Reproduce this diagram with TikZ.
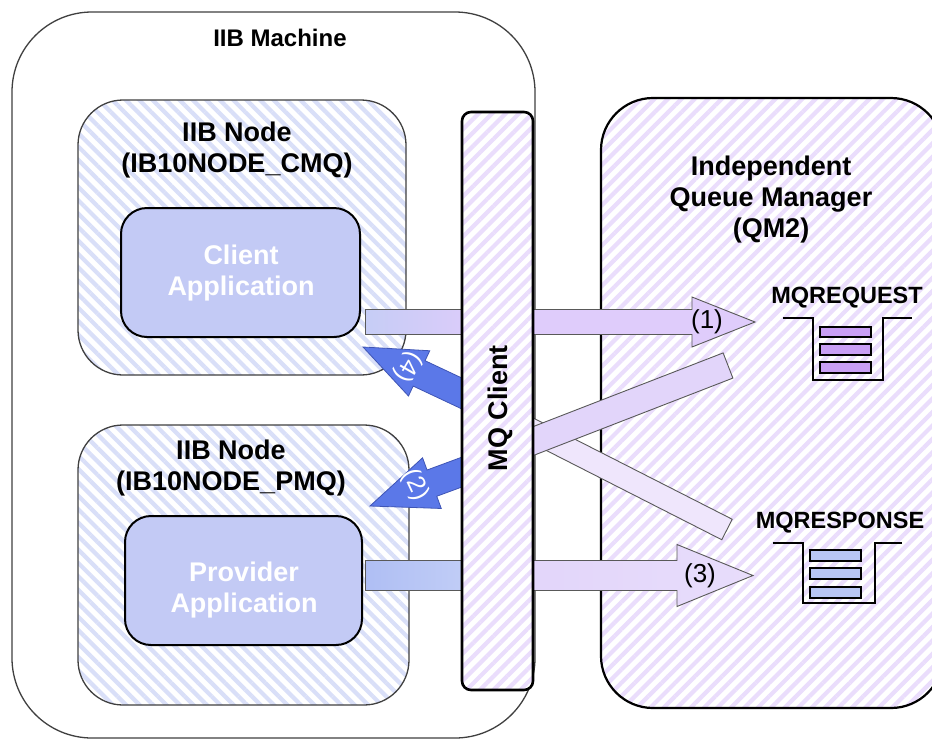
\documentclass[tikz,border=0pt]{standalone}
\usepackage{fontspec}
\setmainfont{Liberation Sans}
\usetikzlibrary{calc,patterns.meta}
\definecolor{stripeB}{HTML}{D9DFF8}
\definecolor{stripeP}{HTML}{EADDFC}
\definecolor{appfill}{HTML}{C3CAF5}
\definecolor{arrblue}{HTML}{5B78E8}
\definecolor{arrblueline}{HTML}{3F55B5}
\definecolor{qpurple}{HTML}{C99FF5}
\definecolor{qblue}{HTML}{B8C6F5}
\definecolor{barA}{HTML}{E2D5FA}
\definecolor{barB}{HTML}{EFE6FC}
\definecolor{arrOneR}{HTML}{DFCCFB}
\definecolor{arrThreeR}{HTML}{E8DDFB}
\newcommand{\blockarrow}[6]{%
  \coordinate (ba-h) at ($(#3)!#5!(#2)$);
  \path[#1] ($(#2)!#4!90:(#3)$) -- ($(ba-h)!#4!90:(#3)$) -- ($(ba-h)!#6!90:(#3)$) -- (#3)
    -- ($(ba-h)!#6!-90:(#3)$) -- ($(ba-h)!#4!-90:(#3)$) -- ($(#2)!#4!-90:(#3)$) -- cycle;
}
\newcommand{\barshape}[4]{%
  \path[#1] ($(#2)!#4!90:(#3)$) -- ($(#3)!#4!-90:(#2)$) -- ($(#3)!#4!90:(#2)$) -- ($(#2)!#4!-90:(#3)$) -- cycle;
}
\tikzset{
  bluehatch/.style={preaction={fill=white}, pattern={Lines[angle=-45,distance=9.5pt,line width=4.2pt]}, pattern color=stripeB},
  purphatch/.style={preaction={fill=white}, pattern={Lines[angle=45,distance=9.5pt,line width=4.2pt]}, pattern color=stripeP},
  machinebox/.style={draw=black!75, line width=1.3pt, rounded corners=80pt, fill=white},
  nodebox/.style={draw=black!75, line width=1.3pt, rounded corners=45pt, bluehatch},
  appbox/.style={draw=black, line width=2pt, rounded corners=26pt, fill=appfill},
  qmbox/.style={draw=black, line width=2.2pt, rounded corners=52pt, purphatch},
  mqbox/.style={draw=black, line width=2.6pt, rounded corners=9pt, purphatch},
  boxnode/.style={inner sep=0pt, outer sep=0pt, anchor=center},
  bigtxt/.style={font=\fontsize{27}{31}\selectfont\bfseries, align=center, inner sep=0pt},
  midtxt/.style={font=\fontsize{24}{28}\selectfont\bfseries, align=center, inner sep=0pt},
  qtxt/.style={font=\fontsize{23.5}{26}\selectfont\bfseries, inner sep=0pt},
  apptxt/.style={font=\fontsize{27}{31}\selectfont\bfseries, align=center, inner sep=0pt, text=white},
  numtxt/.style={font=\fontsize{26}{30}\selectfont, inner sep=0pt},
  wnumtxt/.style={font=\fontsize{25}{28}\selectfont, inner sep=0pt, text=white},
  queueline/.style={draw=black, line width=2pt},
  qitem/.style={draw=black, line width=2pt},
  arrline/.style={draw=black!65, line width=0.9pt},
}
\begin{document}
\begin{tikzpicture}[x=1pt,y=-1pt]
\useasboundingbox (0,0) rectangle (932,740);
\clip (0,0) rectangle (932,740);
\fill[white] (0,0) rectangle (932,740);

% IIB machine
\node[machinebox, boxnode, minimum width=523pt, minimum height=726pt] (machine) at (273.5,375) {};
\node[midtxt] (machinetxt) at (280,38) {IIB Machine};

% IIB nodes
\node[nodebox, boxnode, minimum width=328pt, minimum height=275pt] (cmq) at (242,237.5) {};
\node[bigtxt] (cmqtxt) at (237,150) {IIB Node\\(IB10NODE\_CMQ)};
\node[nodebox, boxnode, minimum width=331pt, minimum height=280pt] (pmq) at (243.5,565) {};
\node[bigtxt] (pmqtxt) at (231,468) {IIB Node\\(IB10NODE\_PMQ)};

% applications
\node[appbox, boxnode, minimum width=239pt, minimum height=129pt] (client) at (240.5,272.5) {};
\node[apptxt] (clienttxt) at (241,273) {Client\\Application};
\node[appbox, boxnode, minimum width=237pt, minimum height=129pt] (provider) at (243.5,580.5) {};
\node[apptxt] (providertxt) at (244,590) {Provider\\Application};

% queue manager
\node[qmbox, boxnode, minimum width=342pt, minimum height=610pt] (qm) at (772,403) {};
\node[bigtxt] (qmtxt) at (771,200) {Independent\\Queue Manager\\(QM2)};

% queues
\node[qtxt] (reqtxt) at (847,298) {MQREQUEST};
\draw[queueline] (783,318) -- (813,318) -- (813,380) -- (883,380) -- (883,318) -- (912,318);
\foreach \ya/\yb in {327/337,344/355,362/373}
  \draw[qitem, fill=qpurple] (820,\ya) rectangle (871,\yb);
\node[qtxt] (resptxt) at (840,523) {MQRESPONSE};
\draw[queueline] (773,543) -- (803,543) -- (803,603) -- (875,603) -- (875,543) -- (902,543);
\foreach \ya/\yb in {550/561,568/579,587/598}
  \draw[qitem, fill=qblue] (810,\ya) rectangle (861,\yb);

% arrow coordinates
\coordinate (a1L) at (365,309.5);
\coordinate (a1M) at (475,334.5);
\coordinate (a1T) at (520,322);
\coordinate (a1P) at (755,322);
\coordinate (a3L) at (365,560.5);
\coordinate (a3M) at (475,590.5);
\coordinate (a3T) at (520,575.5);
\coordinate (a3P) at (753,575.5);
\coordinate (a4T) at (480,402);
\coordinate (a4P) at (363,347);
\coordinate (a2T) at (481,465);
\coordinate (a2P) at (370,506);
\coordinate (bAT) at (505,452);
\coordinate (bAP) at (728,365.5);
\coordinate (bBT) at (505,416.5);
\coordinate (bBP) at (727,529.5);

% arrow (1)
\path[arrline, left color=appfill!95!white, right color=arrOneR!90!appfill] (a1L) rectangle (a1M);
\blockarrow{arrline, fill=arrOneR}{a1T}{a1P}{12.5pt}{63pt}{25pt}
\node[numtxt] (n1) at (707,322) {(1)};
% arrow (3)
\path[arrline, left color=qblue!90!arrblue, right color=qblue!85!white] (a3L) rectangle (a3M);
\blockarrow{arrline, left color=barA, right color=arrThreeR}{a3T}{a3P}{15pt}{76pt}{31pt}
\node[numtxt] (n3) at (700,576) {(3)};
% crossing bars
\barshape{arrline, fill=barB}{bBT}{bBP}{11.5pt}
\barshape{arrline, fill=barA}{bAT}{bAP}{13.5pt}
% arrows (4) and (2)
\blockarrow{draw=arrblueline, line width=0.8pt, fill=arrblue}{a4T}{a4P}{14pt}{62pt}{25pt}
\node[wnumtxt, rotate=-120] (n4) at (408,367) {(4)};
\blockarrow{draw=arrblueline, line width=0.8pt, fill=arrblue}{a2T}{a2P}{14pt}{66pt}{27pt}
\node[wnumtxt, rotate=-65] (n2) at (415,485) {(2)};

% MQ client
\node[mqbox, boxnode, minimum width=71pt, minimum height=578pt] (mq) at (497.5,401) {};
\node[bigtxt, rotate=90] (mqtxt) at (500,408) {MQ Client};
\end{tikzpicture}
\end{document}
